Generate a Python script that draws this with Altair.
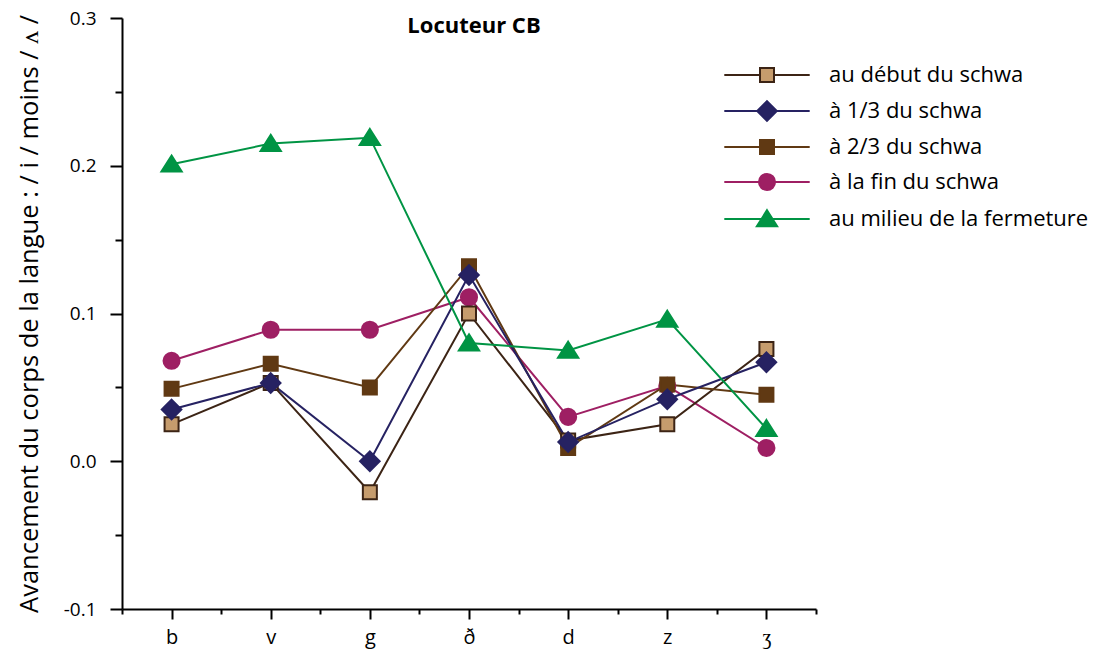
import altair as alt
import pandas as pd

categories = ["b", "v", "g", "ð", "d", "z", "ʒ"]
series_names = [
    "au début du schwa",
    "à 1/3 du schwa",
    "à 2/3 du schwa",
    "à la fin du schwa",
    "au milieu de la fermeture",
]
debut = [0.025, 0.053, -0.021, 0.100, 0.014, 0.025, 0.076]
tiers1 = [0.035, 0.053, 0.000, 0.126, 0.013, 0.042, 0.067]
tiers2 = [0.049, 0.066, 0.050, 0.132, 0.009, 0.052, 0.045]
fin = [0.068, 0.089, 0.089, 0.111, 0.030, 0.051, 0.009]
milieu = [0.201, 0.215, 0.219, 0.080, 0.075, 0.096, 0.022]

# drawing order (later drawn on top)
draw_order = [fin, debut, tiers2, tiers1, milieu]
draw_names = [series_names[3], series_names[0], series_names[2], series_names[1], series_names[4]]

rows = []
for name, vals in zip(draw_names, draw_order):
    for i, (c, v) in enumerate(zip(categories, vals)):
        rows.append({"series": name, "idx": i, "cat": c, "value": v})
df = pd.DataFrame(rows)

FONT = "Open Sans"
fill_colors = ["#c69c6d", "#262262", "#603913", "#9e1f63", "#009444"]
stroke_colors = ["#3c2415", "#262262", "#603913", "#9e1f63", "#009444"]

marker_paths = [
    "M-1,-1H1V1H-1Z",
    "M0,-1.4L1.4,0L0,1.4L-1.4,0Z",
    "M-1,-1H1V1H-1Z",
    "M1.15,0A1.15,1.15 0 1,1 -1.15,0A1.15,1.15 0 1,1 1.15,0Z",
    "M0,-1.25L1.45,1.05H-1.45Z",
]
L = 6.1
legend_paths = [
    f"M-{L},0H-1M-1,-1H1V1H-1ZM1,0H{L}",
    f"M-{L},0H-1.4M0,-1.4L1.4,0L0,1.4L-1.4,0ZM1.4,0H{L}",
    f"M-{L},0H-1M-1,-1H1V1H-1ZM1,0H{L}",
    f"M-{L},0H-1.15M1.15,0A1.15,1.15 0 1,1 -1.15,0A1.15,1.15 0 1,1 1.15,0ZM1.15,0H{L}",
    f"M-{L},0H{L}M0,-1.25L1.45,1.05H-1.45Z",
]

cat_js = "[" + ",".join(f"'{c}'" for c in categories) + "]"

x_enc = alt.X(
    "idx:Q",
    scale=alt.Scale(domain=[-0.5, len(categories) - 0.5], nice=False, zero=False),
    axis=alt.Axis(
        title=None,
        values=[i / 2 for i in range(-1, 2 * len(categories))],
        labelExpr=f"datum.value == floor(datum.value) ? {cat_js}[datum.value] : ''",
        tickSize={"condition": {"test": "datum.value == floor(datum.value)", "value": 10}, "value": 5},
        labelFontSize=20,
        labelPadding=8,
        labelOverlap=False,
        grid=False,
    ),
)
y_enc = alt.Y(
    "value:Q",
    scale=alt.Scale(domain=[-0.1, 0.3], nice=False, zero=False),
    axis=alt.Axis(
        title="Avancement du corps de la langue : / i / moins / ʌ /",
        titleFontSize=25.5,
        titleFontWeight="normal",
        titlePadding=21,
        values=[round(-0.1 + 0.05 * i, 2) for i in range(9)],
        labelExpr="abs(datum.value*10 - round(datum.value*10)) < 0.01 ? replace(format(datum.value, '.1f'), '\u2212', '-') : ''",
        tickSize={"condition": {"test": "abs(datum.value*10 - round(datum.value*10)) < 0.01", "value": 12}, "value": 7},
        labelFontSize=19,
        labelPadding=14,
        labelOverlap=False,
        grid=False,
    ),
)

base = alt.Chart(df)

lines = base.mark_line(strokeWidth=2).encode(
    x=x_enc,
    y=y_enc,
    stroke=alt.Stroke("series:N", scale=alt.Scale(domain=series_names, range=stroke_colors), legend=None),
)

points = base.mark_point(filled=True, opacity=1, strokeWidth=2, size=196).encode(
    x=x_enc,
    y=y_enc,
    shape=alt.Shape("series:N", scale=alt.Scale(domain=series_names, range=marker_paths), legend=None),
    fill=alt.Fill("series:N", scale=alt.Scale(domain=series_names, range=fill_colors), legend=None),
    stroke=alt.Stroke("series:N", scale=alt.Scale(domain=series_names, range=stroke_colors), legend=None),
)

legend = alt.Legend(
    title=None,
    orient="none",
    legendX=634,
    legendY=46,
    symbolSize=196,
    symbolStrokeWidth=2,
    labelFontSize=22,
    labelFont=FONT,
    labelColor="black",
    labelOffset=51,
    rowPadding=11,
    labelLimit=400,
)
legend_layer = base.transform_filter("false").mark_point(filled=True, opacity=1, strokeWidth=2, size=196).encode(
    x=x_enc,
    y=y_enc,
    shape=alt.Shape("series:N", scale=alt.Scale(domain=series_names, range=legend_paths), legend=legend),
    fill=alt.Fill("series:N", scale=alt.Scale(domain=series_names, range=fill_colors), legend=legend),
    stroke=alt.Stroke("series:N", scale=alt.Scale(domain=series_names, range=stroke_colors), legend=legend),
)

chart = (
    alt.layer(lines, points, legend_layer)
    .resolve_scale(shape="independent", fill="independent", stroke="independent")
    .properties(
        width=694,
        height=591,
        autosize=alt.AutoSizeParams(type="none"),
        padding={"left": 114, "top": 10, "right": 280, "bottom": 40},
        title=alt.TitleParams(
            "Locuteur CB",
            fontSize=22,
            fontWeight="bold",
            font=FONT,
            color="black",
            anchor="middle",
            dy=33,
            dx=5,
        ),
    )
    .configure_view(stroke=None)
    .configure_axis(
        domainColor="black",
        domainWidth=2,
        tickColor="black",
        tickWidth=2,
        labelColor="black",
        titleColor="black",
        labelFont=FONT,
        titleFont=FONT,
    )
)

chart.save("out.html", embed_options={"renderer": "svg", "actions": False})
